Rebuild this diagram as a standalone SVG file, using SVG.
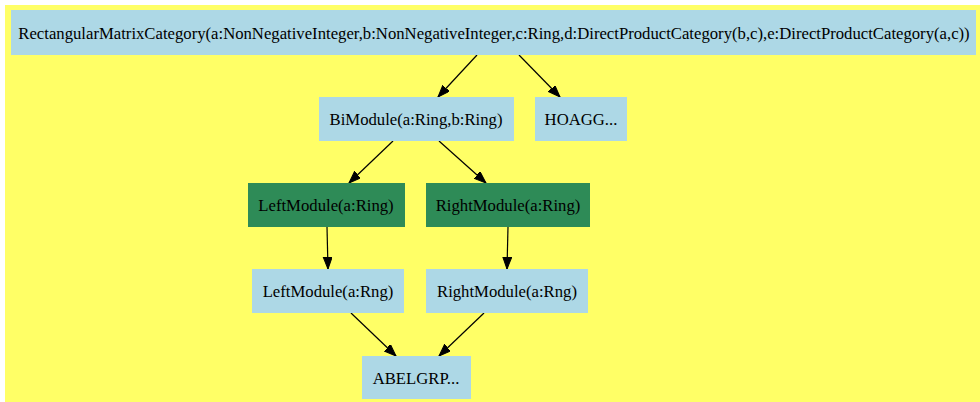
<svg xmlns="http://www.w3.org/2000/svg" width="980" height="402" viewBox="0 0 980 402">
<style>
.n{fill:#add8e6;}
.g{fill:#2e8b57;}
text{font-family:"Liberation Serif","Times New Roman",serif;font-size:16.7px;fill:#000;text-anchor:middle;}
.e{stroke:#000;stroke-width:1.2;fill:none;marker-end:url(#ah);}
</style>
<defs>
<marker id="ah" markerUnits="userSpaceOnUse" markerWidth="14" markerHeight="12" refX="12" refY="4.5" orient="auto">
<path d="M0,0 L12,4.5 L0,9 Z" fill="#000" stroke="#000" stroke-width="1"/>
</marker>
</defs>
<rect x="5" y="5" width="975" height="397" fill="#ffff66"/>
<g id="edges">
<line class="e" x1="477" y1="55" x2="438" y2="97"/>
<line class="e" x1="519" y1="55" x2="560" y2="97"/>
<line class="e" x1="393" y1="141" x2="349" y2="183"/>
<line class="e" x1="439" y1="141" x2="486" y2="183"/>
<line class="e" x1="327" y1="227" x2="328" y2="269"/>
<line class="e" x1="508" y1="227" x2="507" y2="269"/>
<line class="e" x1="351" y1="313" x2="396" y2="356"/>
<line class="e" x1="484" y1="313" x2="439" y2="356"/>
</g>
<g id="RectangularMatrixCategory">
<rect class="n" x="11" y="10" width="965" height="45"/>
<text x="494" y="39">RectangularMatrixCategory(a:NonNegativeInteger,b:NonNegativeInteger,c:Ring,d:DirectProductCategory(b,c),e:DirectProductCategory(a,c))</text>
</g>
<g id="BiModule">
<rect class="n" x="319" y="97" width="195" height="44"/>
<text x="416" y="125">BiModule(a:Ring,b:Ring)</text>
</g>
<g id="HOAGG">
<rect class="n" x="535" y="97" width="92" height="44"/>
<text x="581" y="125">HOAGG...</text>
</g>
<g id="LeftModuleRing">
<rect class="g" x="248" y="183" width="157" height="44"/>
<text x="326" y="211">LeftModule(a:Ring)</text>
</g>
<g id="RightModuleRing">
<rect class="g" x="426" y="183" width="164" height="44"/>
<text x="508" y="211">RightModule(a:Ring)</text>
</g>
<g id="LeftModuleRng">
<rect class="n" x="252" y="269" width="152" height="44"/>
<text x="328" y="297">LeftModule(a:Rng)</text>
</g>
<g id="RightModuleRng">
<rect class="n" x="426" y="269" width="162" height="44"/>
<text x="507" y="297">RightModule(a:Rng)</text>
</g>
<g id="ABELGRP">
<rect class="n" x="362" y="356" width="109" height="43"/>
<text x="416" y="384">ABELGRP...</text>
</g>
</svg>
